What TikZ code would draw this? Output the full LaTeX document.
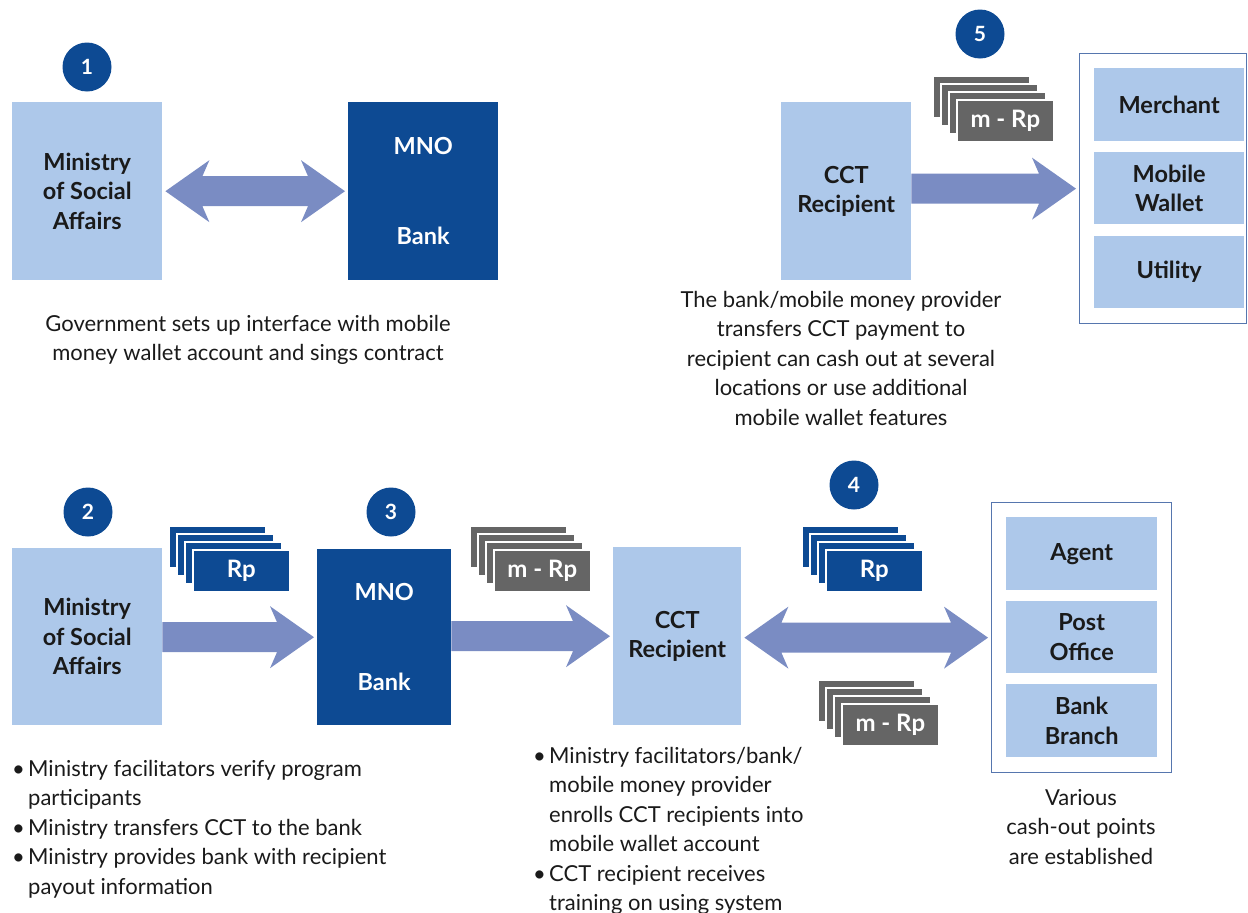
\documentclass[tikz,border=0pt]{standalone}
\usepackage{fontspec}
\setmainfont{Lato}
\usetikzlibrary{calc}

\definecolor{navy}{HTML}{0D4A93}
\definecolor{pale}{HTML}{ADC8EA}
\definecolor{slate}{HTML}{656565}
\definecolor{flow}{HTML}{7A8CC3}
\definecolor{framec}{HTML}{5676AE}
\definecolor{ink}{HTML}{1A1A1A}

\tikzset{
  box/.style={anchor=north west, inner sep=0pt, align=center,
    font=\fontsize{23.5}{29.5}\selectfont\bfseries},
  palebox/.style={box, fill=pale, text=ink},
  navybox/.style={box, fill=navy, text=white},
  badge/.style={circle, fill=navy, text=white, minimum size=49pt, inner sep=0pt,
    font=\fontsize{21}{21}\selectfont\bfseries},
  framebox/.style={draw=framec, line width=1.3pt, anchor=north west, inner sep=0pt},
  caption/.style={font=\fontsize{22}{29.5}\selectfont, text=ink, align=center, inner sep=0pt, anchor=north},
  bullets/.style={font=\fontsize{22}{29.5}\selectfont, text=ink, align=left, inner sep=0pt, anchor=north west},
  card/.style={draw=white, line width=1.6pt, inner sep=0pt, anchor=north west,
    minimum width=97pt, minimum height=42pt, text=white,
    font=\fontsize{24}{24}\selectfont\bfseries},
}

% stack of four bank notes; the front one carries the label
\newcommand{\notestack}[5]{%
  \foreach \k in {3,2,1} {\node[card, fill=#4] at (#2-8*\k, #3-8*\k) {};}
  \node[card, fill=#4] (#1) at (#2,#3) {#5};}

% broad one-way arrow between two node anchors
\newcommand{\fatarrow}[2]{%
  \fill[flow] let \p1=(#1), \p2=(#2) in
    (\x1,\y2+15pt) -- (\x2-40pt,\y2+15pt) -- (\x2-47pt,\y2+31pt) -- (\x2-3pt,\y2)
    -- (\x2-47pt,\y2-31pt) -- (\x2-40pt,\y2-15pt) -- (\x1,\y2-15pt) -- cycle;}

% broad two-way arrow between two node anchors
\newcommand{\fatdouble}[2]{%
  \fill[flow] let \p1=(#1), \p2=(#2) in
    (\x1+3pt,\y2) -- (\x1+47pt,\y2+31pt) -- (\x1+40pt,\y2+15pt) -- (\x2-40pt,\y2+15pt)
    -- (\x2-47pt,\y2+31pt) -- (\x2-3pt,\y2) -- (\x2-47pt,\y2-31pt) -- (\x2-40pt,\y2-15pt)
    -- (\x1+40pt,\y2-15pt) -- (\x1+47pt,\y2-31pt) -- cycle;}

\newcommand{\bul}{\makebox[16pt][l]{\textbullet}}
\newcommand{\ind}{\hspace*{16pt}}

\begin{document}
\begin{tikzpicture}[x=1pt, y=-1pt]
  \useasboundingbox (0,0) rectangle (1248,913);

  % ---------- step 1 ----------
  \node[badge] (b1) at (87,67) {1};
  \node[palebox, minimum width=150pt, minimum height=178pt] (min1) at (12,102)
    {Ministry\\of Social\\Affairs};
  \node[navybox, minimum width=150pt, minimum height=178pt] (mno1) at (348,102)
    {MNO\\[60pt]Bank};
  \fatdouble{min1.east}{mno1.west}
  \node[caption] (cap1) at (248,315)
    {Government sets up interface with mobile\\money wallet account and sings contract};

  % ---------- step 5 ----------
  \node[badge] (b5) at (980,34) {5};
  \node[palebox, minimum width=130pt, minimum height=178pt] (cct5) at (781,102)
    {CCT\\Recipient};
  \node[framebox, minimum width=167pt, minimum height=270pt] (out5) at (1079,53) {};
  \node[palebox, minimum width=150pt, minimum height=73pt] (merchant) at (1094,68) {Merchant};
  \node[palebox, minimum width=150pt, minimum height=72pt] (wallet) at (1094,152) {Mobile\\Wallet};
  \node[palebox, minimum width=150pt, minimum height=72pt] (utility) at (1094,236) {Utility};
  \notestack{note5}{956}{99}{slate}{m - Rp}
  \fatarrow{cct5.east}{out5.west}
  \node[caption] (cap5) at (841,291)
    {The bank/mobile money provider\\transfers CCT payment to\\recipient can cash out at several\\locations or use additional\\mobile wallet features};

  % ---------- steps 2 to 4 ----------
  \node[badge] (b2) at (88,512) {2};
  \node[badge] (b3) at (391,512) {3};
  \node[badge] (b4) at (854,485) {4};

  \node[palebox, minimum width=150pt, minimum height=177pt] (min2) at (12,548)
    {Ministry\\of Social\\Affairs};
  \node[navybox, minimum width=134pt, minimum height=176pt] (mno2) at (317,549)
    {MNO\\[60pt]Bank};
  \node[palebox, minimum width=128pt, minimum height=178pt] (cct2) at (613,547)
    {CCT\\Recipient};
  \node[framebox, minimum width=180pt, minimum height=270pt] (out4) at (991,502) {};
  \node[palebox, minimum width=151pt, minimum height=73pt] (agent) at (1006,517) {Agent};
  \node[palebox, minimum width=151pt, minimum height=72pt] (post) at (1006,601) {Post\\Office};
  \node[palebox, minimum width=151pt, minimum height=73pt] (branch) at (1006,684) {Bank\\Branch};

  \notestack{note2}{192}{549}{navy}{Rp}
  \notestack{note3}{493}{549}{slate}{m - Rp}
  \notestack{note4a}{825}{549}{navy}{Rp}
  \notestack{note4b}{841}{703}{slate}{m - Rp}

  \fatarrow{min2.east}{mno2.west}
  \fatarrow{mno2.east}{cct2.west}
  \fatdouble{cct2.east}{out4.west}

  \node[bullets] (list2) at (12,760)
    {\bul Ministry facilitators verify program\\
     \ind participants\\
     \bul Ministry transfers CCT to the bank\\
     \bul Ministry provides bank with recipient\\
     \ind payout information};
  \node[bullets] (list3) at (533,747)
    {\bul Ministry facilitators/bank/\\
     \ind mobile money provider\\
     \ind enrolls CCT recipients into\\
     \ind mobile wallet account\\
     \bul CCT recipient receives\\
     \ind training on using system};
  \node[caption] (cap4) at (1081,789)
    {Various\\cash-out points\\are established};
\end{tikzpicture}
\end{document}
